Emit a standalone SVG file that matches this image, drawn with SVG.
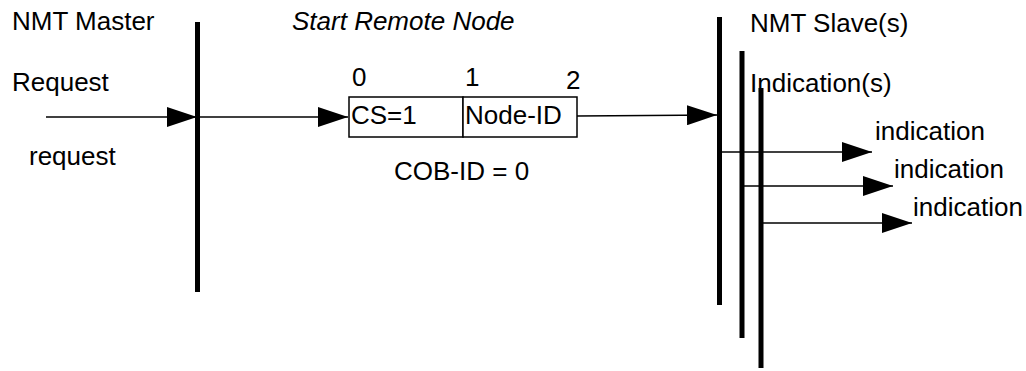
<svg xmlns="http://www.w3.org/2000/svg" width="1026" height="371" viewBox="0 0 1026 371">
<style>
text{font-family:"Liberation Sans",Arial,sans-serif;font-size:26px;fill:#000}
.bar{stroke:#000;stroke-width:5;fill:none}
.ln{stroke:#000;stroke-width:1.5;fill:none}
.box{fill:#fff;stroke:#000;stroke-width:1.5}
</style>
<defs>
<marker id="ah" viewBox="0 0 30 20" refX="30" refY="10" markerWidth="30" markerHeight="20" markerUnits="userSpaceOnUse" orient="auto">
<path d="M0,0 L30,10 L0,20 Z" fill="#000"/>
</marker>
</defs>
<g id="master">
<line class="bar" x1="197.5" y1="22" x2="197.5" y2="292"/>
<text x="12" y="30">NMT Master</text>
<text x="12" y="91">Request</text>
<text x="29" y="165">request</text>
</g>
<g id="title">
<text x="292" y="30" font-style="italic">Start Remote Node</text>
</g>
<g id="frame">
<rect class="box" x="349" y="97" width="114" height="40"/>
<rect class="box" x="463" y="97" width="114" height="40"/>
<text x="351" y="124">CS=1</text>
<text x="465" y="124">Node-ID</text>
<text x="352" y="86">0</text>
<text x="465" y="86">1</text>
<text x="566" y="89">2</text>
<text x="394" y="180">COB-ID = 0</text>
</g>
<g id="slave1">
<line class="bar" x1="719.5" y1="17" x2="719.5" y2="305"/>
<text x="750" y="32">NMT Slave(s)</text>
<text x="750" y="92">Indication(s)</text>
<text x="875" y="140">indication</text>
</g>
<g id="slave2">
<line class="bar" x1="742" y1="51" x2="742" y2="338"/>
<text x="894" y="178">indication</text>
</g>
<g id="slave3">
<line class="bar" x1="761" y1="88" x2="761" y2="368"/>
<text x="913" y="216">indication</text>
</g>
<g id="connectors">
<line class="ln" x1="46" y1="117" x2="197" y2="117" marker-end="url(#ah)"/>
<line class="ln" x1="200" y1="117" x2="348" y2="117" marker-end="url(#ah)"/>
<line class="ln" x1="577" y1="116" x2="717" y2="115" marker-end="url(#ah)"/>
<line class="ln" x1="722" y1="152" x2="872" y2="152" marker-end="url(#ah)"/>
<line class="ln" x1="744" y1="186" x2="893" y2="186" marker-end="url(#ah)"/>
<line class="ln" x1="763" y1="223" x2="912" y2="223" marker-end="url(#ah)"/>
</g>
</svg>
